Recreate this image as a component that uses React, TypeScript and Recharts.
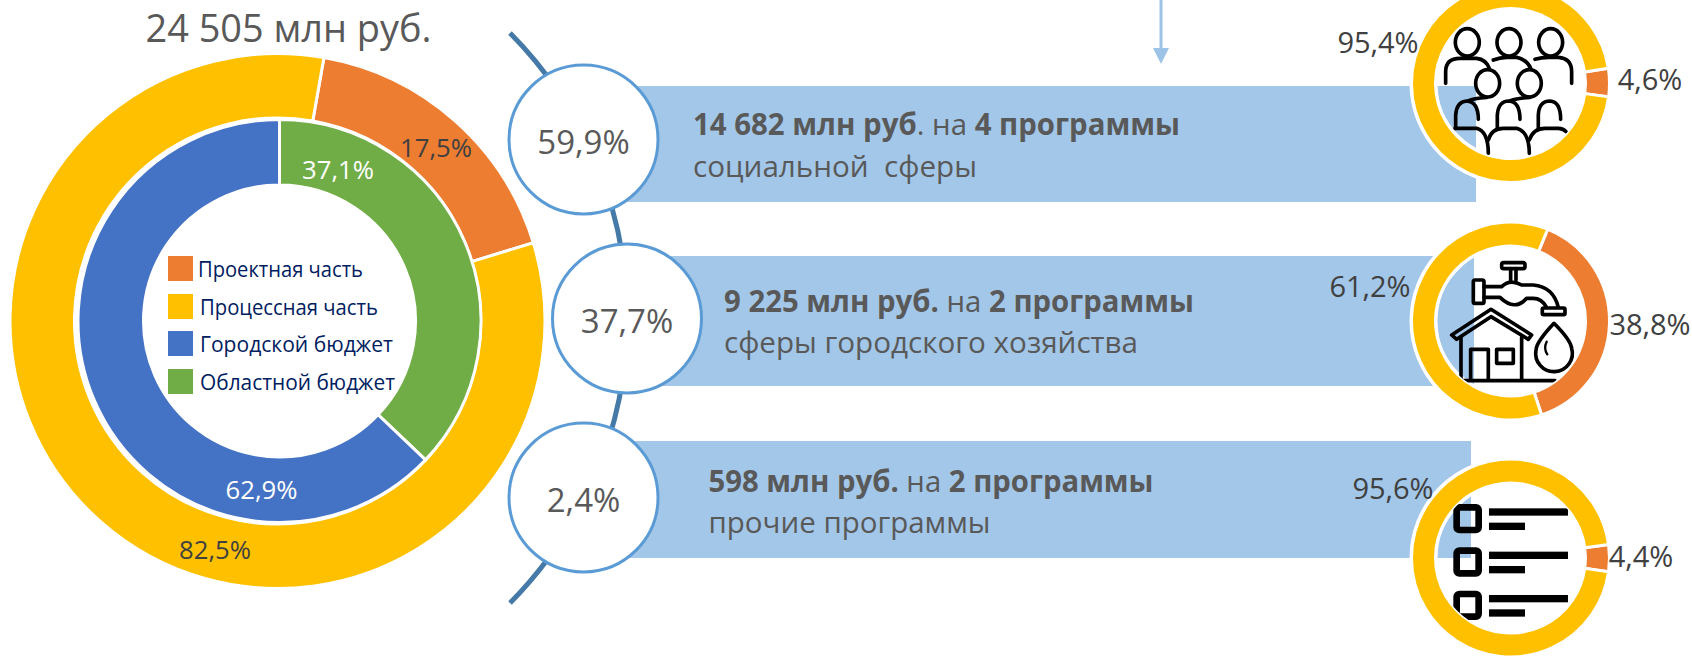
import React from "react";
import { PieChart, Pie, Cell } from "recharts";

const W = 1692;
const H = 657;
const FONT = "'Open Sans', sans-serif";
const ORANGE = "#ED7D31";
const YELLOW = "#FFC000";
const BLUE = "#4472C4";
const GREEN = "#70AD47";
const BANNER = "#A3C7E8";
const TEXT = "#595959";
const LABEL = "#404040";

const title = "24 505 млн руб.";

// Overall budget split
const partNames = ["Проектная часть", "Процессная часть"];
const partValues = [17.5, 82.5];
const budgetNames = ["Областной бюджет", "Городской бюджет"];
const budgetValues = [37.1, 62.9];

const legendNames = ["Проектная часть", "Процессная часть", "Городской бюджет", "Областной бюджет"];
const legendColors = [ORANGE, YELLOW, BLUE, GREEN];

// Program groups
const groupShares = [59.9, 37.7, 2.4];
const groupBold1 = ["14 682 млн руб", "9 225 млн руб.", "598 млн руб."];
const groupMid = [". на ", " на ", " на "];
const groupBold2 = ["4 программы", "2 программы", "2 программы"];
const groupLine2 = ["социальной  сферы", "сферы городского хозяйства", "прочие программы"];

const socialValues = [4.6, 95.4];
const utilityValues = [38.8, 61.2];
const otherValues = [4.4, 95.6];

const pct = (v: number) => `${v.toFixed(1).replace(".", ",")}%`;

const toData = (names: string[], values: number[]) => names.map((name, i) => ({ name, value: values[i] }));

const rings = [
  { values: socialValues, cy: 83.5, start: 8.8 },
  { values: utilityValues, cy: 321, start: 68 },
  { values: otherValues, cy: 558, start: 7.9 },
];
const SMALL_CX = 1510.5;

const banners = [
  { y: 86, h: 116, end: 1476, tx: 693, b1: 135, b2: 177, w1: 487, w2: 284, cx: 583.5, cy: 139.5 },
  { y: 256, h: 130, end: 1474, tx: 724, b1: 312, b2: 353, w1: 470, w2: 414, cx: 627, cy: 318.5 },
  { y: 441, h: 117, end: 1471, tx: 708.5, b1: 491.5, b2: 532.5, w1: 445, w2: 282, cx: 583.5, cy: 497.5 },
];

function Background() {
  return (
    <svg width={W} height={H} style={{ position: "absolute", left: 0, top: 0 }}>
      <path d="M510,33 A405,405 0 0 1 510,603" fill="none" stroke="#4479A8" strokeWidth={5} />
      <line x1={1161} y1={0} x2={1161} y2={50} stroke="#9DC3E6" strokeWidth={3} />
      <polygon points="1153,48 1169,48 1161,64" fill="#9DC3E6" />
      {banners.map((b, i) => (
        <rect key={i} x={b.cx} y={b.y} width={b.end - b.cx} height={b.h} fill={BANNER} />
      ))}
      {banners.map((b, i) => (
        <circle key={i} cx={b.cx} cy={b.cy} r={74.5} fill="#fff" stroke="#5B9BD5" strokeWidth={3} />
      ))}
      {rings.map((r, i) => (
        <g key={i} fill="none" stroke="#fff">
          <circle cx={SMALL_CX} cy={r.cy} r={99} strokeWidth={4} />
          <circle cx={SMALL_CX} cy={r.cy} r={75} strokeWidth={4} />
        </g>
      ))}
    </svg>
  );
}

function Charts() {
  return (
    <div style={{ position: "absolute", left: 0, top: 0 }}>
      <PieChart width={W} height={H} margin={{ top: 0, right: 0, bottom: 0, left: 0 }}>
        <Pie
          data={toData(partNames, partValues)}
          dataKey="value"
          cx={277.5}
          cy={321}
          innerRadius={203}
          outerRadius={267.5}
          startAngle={80}
          endAngle={-280}
          stroke="#fff"
          strokeWidth={3}
          isAnimationActive={false}
        >
          <Cell fill={ORANGE} />
          <Cell fill={YELLOW} />
        </Pie>
        <Pie
          data={toData(budgetNames, budgetValues)}
          dataKey="value"
          cx={279.5}
          cy={321}
          innerRadius={136}
          outerRadius={201.5}
          startAngle={90}
          endAngle={-270}
          stroke="#fff"
          strokeWidth={3}
          isAnimationActive={false}
        >
          <Cell fill={GREEN} />
          <Cell fill={BLUE} />
        </Pie>
        {rings.map((r, i) => (
          <Pie
            key={i}
            data={r.values.map((value, j) => ({ name: partNames[j], value }))}
            dataKey="value"
            cx={SMALL_CX}
            cy={r.cy}
            innerRadius={75}
            outerRadius={99}
            startAngle={r.start}
            endAngle={r.start - 360}
            stroke="#fff"
            strokeWidth={3}
            isAnimationActive={false}
          >
            <Cell fill={ORANGE} />
            <Cell fill={YELLOW} />
          </Pie>
        ))}
      </PieChart>
    </div>
  );
}

function People() {
  return (
    <g transform="translate(1300,0) scale(0.3333)" fill="none" stroke="#000" strokeWidth={11} strokeLinecap="round">
      <ellipse cx={502} cy={127} rx={36} ry={41} />
      <ellipse cx={627} cy={127} rx={36} ry={41} />
      <ellipse cx={752} cy={127} rx={36} ry={41} />
      <ellipse cx={563} cy={250} rx={36} ry={41} />
      <ellipse cx={688} cy={250} rx={36} ry={41} />
      <path d="M437,250 V215 Q437,175 480,175 H530 Q558,178 568,205" />
      <path d="M580,180 Q600,172 620,172 H650 Q680,178 692,205" />
      <path d="M705,178 Q725,172 745,172 H775 Q815,175 815,215 V250" />
      <path d="M467,385 V345 Q470,305 500,303 Q535,305 535,358" />
      <path d="M505,303 Q520,295 560,292" />
      <path d="M592,385 V345 Q595,303 627,303 Q660,305 660,358" />
      <path d="M630,303 Q650,295 690,292" />
      <path d="M715,385 V345 Q717,303 750,303 Q782,305 782,358" />
      <path d="M465,385 H530 Q565,395 565,460" />
      <path d="M565,420 Q575,385 610,385 H650 Q688,395 688,460" />
      <path d="M688,420 Q700,385 735,385 H775 Q790,385 798,395" />
    </g>
  );
}

function Utility() {
  return (
    <g transform="translate(1300,220) scale(0.3333)" fill="none" stroke="#000" strokeWidth={11} strokeLinecap="round" strokeLinejoin="round">
      <rect x={605} y={128} width={70} height={18} rx={6} />
      <path d="M632,146 V180 M648,146 V180" />
      <rect x={520} y={180} width={32} height={70} rx={5} />
      <path d="M552,200 H605 Q630,175 665,195 H700 Q760,200 775,262" />
      <path d="M552,232 H600 Q645,275 680,235 H700 Q725,235 740,262" />
      <rect x={727} y={264} width={68} height={20} rx={4} />
      <path d="M455,345 L573,268 L695,345 L685,358 L573,290 L470,358 Z" />
      <path d="M483,352 V480 M665,352 V480" />
      <path d="M512,480 V388 H565 V480" />
      <rect x={590} y={388} width={50} height={42} />
      <path d="M470,482 H765" />
      <path d="M762,310 Q710,365 708,390 A55,55 0 1,0 815,385 Q812,360 762,310 Z" />
      <path d="M740,365 Q730,385 742,403" strokeWidth={7} />
    </g>
  );
}

function Checklist() {
  const ys = [232, 362, 492];
  return (
    <g transform="translate(1300,430) scale(0.3333)">
      {ys.map((y) => (
        <g key={y}>
          <rect x={470} y={y} width={66} height={68} rx={8} fill="none" stroke="#000" strokeWidth={20} />
          <rect x={567} y={y + 3} width={237} height={22} fill="#000" />
          <rect x={567} y={y + 46} width={108} height={22} fill="#000" />
        </g>
      ))}
    </g>
  );
}

const icons = [People, Utility, Checklist];

const bigLabels = [
  { v: partValues[0], x: 436, y: 157, fill: LABEL },
  { v: partValues[1], x: 215, y: 559, fill: LABEL },
  { v: budgetValues[0], x: 338, y: 179, fill: "#fff" },
  { v: budgetValues[1], x: 261.5, y: 499, fill: "#fff" },
];

const sideLabels = [
  { v: socialValues[1], x: 1378, y: 53 },
  { v: socialValues[0], x: 1650, y: 90 },
  { v: utilityValues[1], x: 1370, y: 297 },
  { v: utilityValues[0], x: 1650, y: 335 },
  { v: otherValues[1], x: 1393, y: 499 },
  { v: otherValues[0], x: 1641, y: 567 },
];

const legendY = [256, 294, 331, 369];
const legendTextX = [198, 200, 200, 200];
const legendTextW = [165, 178, 193, 195];

function Foreground() {
  return (
    <svg width={W} height={H} style={{ position: "absolute", left: 0, top: 0 }} fontFamily={FONT}>
      <defs>
        {rings.map((r, i) => (
          <clipPath key={i} id={`hole${i}`}>
            <circle cx={SMALL_CX} cy={r.cy} r={75} />
          </clipPath>
        ))}
      </defs>
      {icons.map((Icon, i) => (
        <g key={i} clipPath={`url(#hole${i})`}>
          <Icon />
        </g>
      ))}
      <text x={288.5} y={42} textAnchor="middle" fontSize={39} fill={TEXT} textLength={286} lengthAdjust="spacingAndGlyphs">
        {title}
      </text>
      {bigLabels.map((l, i) => (
        <text key={i} x={l.x} y={l.y} textAnchor="middle" fontSize={26} fill={l.fill} textLength={72} lengthAdjust="spacingAndGlyphs">
          {pct(l.v)}
        </text>
      ))}
      {legendNames.map((n, i) => (
        <g key={n}>
          <rect x={168} y={legendY[i]} width={25} height={25} fill={legendColors[i]} />
          <text x={legendTextX[i]} y={legendY[i] + 21} fontSize={21} fill="#002060" textLength={legendTextW[i]} lengthAdjust="spacingAndGlyphs">
            {n}
          </text>
        </g>
      ))}
      {banners.map((b, i) => (
        <g key={i} fill={TEXT} fontSize={30}>
          <text x={b.cx} y={b.cy + 14} textAnchor="middle" fontSize={33}>
            {pct(groupShares[i])}
          </text>
          <text x={b.tx} y={b.b1} style={{ whiteSpace: "pre" }} textLength={b.w1} lengthAdjust="spacingAndGlyphs">
            <tspan fontWeight={700}>{groupBold1[i]}</tspan>
            <tspan>{groupMid[i]}</tspan>
            <tspan fontWeight={700}>{groupBold2[i]}</tspan>
          </text>
          <text x={b.tx} y={b.b2} style={{ whiteSpace: "pre" }} textLength={b.w2} lengthAdjust="spacingAndGlyphs">
            {groupLine2[i]}
          </text>
        </g>
      ))}
      {sideLabels.map((l, i) => (
        <text key={i} x={l.x} y={l.y} textAnchor="middle" fontSize={29} fill={LABEL}>
          {pct(l.v)}
        </text>
      ))}
    </svg>
  );
}

export default function App() {
  return (
    <div style={{ position: "absolute", left: 0, top: 0, width: W, height: H, overflow: "hidden", background: "#fff" }}>
      <Background />
      <Charts />
      <Foreground />
    </div>
  );
}
